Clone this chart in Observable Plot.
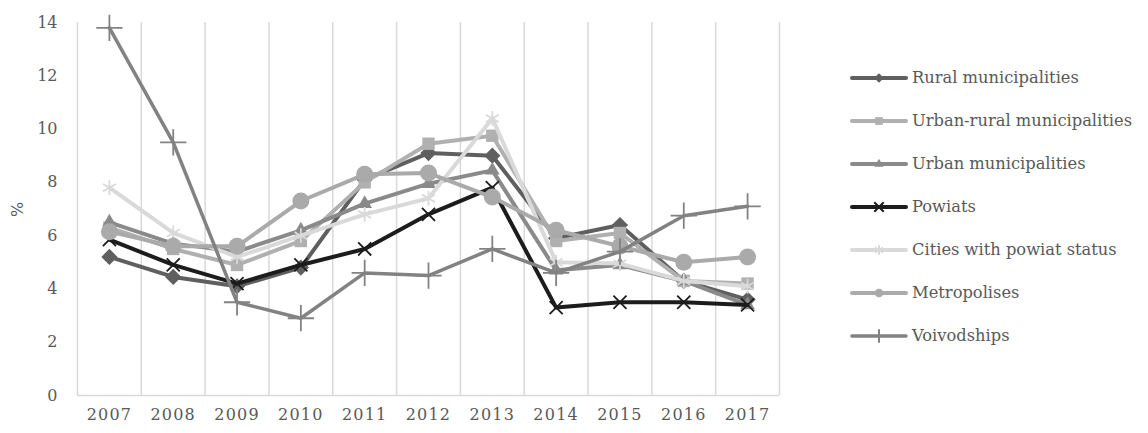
<!DOCTYPE html>
<html>
<head>
<meta charset="utf-8">
<script src="https://cdn.jsdelivr.net/npm/d3@7"></script>
<script src="https://cdn.jsdelivr.net/npm/@observablehq/plot@0.6"></script>
<style>
  html, body { margin: 0; padding: 0; background: #fff; }
  #wrap { position: relative; width: 1148px; height: 433px; font-family: "DejaVu Serif", serif; color: #595959; }
  #legend { position: absolute; left: 850px; top: 56px; }
  .row { display: flex; align-items: center; height: 43px; font-size: 16.3px; white-space: nowrap; }
  .row svg { margin-right: 4px; }
  #ylab { position: absolute; left: 10px; top: 200px; transform: rotate(-90deg); font-size: 16px; font-family: "DejaVu Sans", sans-serif; color: #595959; }
  g[aria-label="x-axis tick label"] text { letter-spacing: 1.2px; }
</style>
</head>
<body>
<div id="wrap"><div id="legend"></div><div id="ylab">%</div></div>
<script>
const years = [2007, 2008, 2009, 2010, 2011, 2012, 2013, 2014, 2015, 2016, 2017];
const yTicks = [0, 2, 4, 6, 8, 10, 12, 14];

const seriesNames = [
  "Rural municipalities",
  "Urban-rural municipalities",
  "Urban municipalities",
  "Powiats",
  "Cities with powiat status",
  "Metropolises",
  "Voivodships"
];
const rural      = [5.2, 4.45, 4.1, 4.8, 8.1, 9.1, 9.0, 5.9, 6.4, 4.3, 3.6];
const urbanRural = [6.3, 5.5, 4.9, 5.8, 8.0, 9.45, 9.75, 5.8, 6.1, 4.3, 4.2];
const urban      = [6.5, 5.7, 5.4, 6.2, 7.2, 7.95, 8.45, 4.7, 4.9, 4.3, 3.4];
const powiats    = [5.85, 4.9, 4.2, 4.9, 5.5, 6.8, 7.8, 3.3, 3.5, 3.5, 3.4];
const cities     = [7.8, 6.1, 5.2, 6.0, 6.8, 7.4, 10.4, 5.0, 4.95, 4.3, 4.1];
const metro      = [6.15, 5.6, 5.6, 7.3, 8.3, 8.35, 7.45, 6.2, 5.6, 5.0, 5.2];
const voiv       = [13.8, 9.5, 3.5, 2.9, 4.6, 4.5, 5.5, 4.6, 5.4, 6.75, 7.1];

const values = [rural, urbanRural, urban, powiats, cities, metro, voiv];
const colors  = ["#5f5f5f", "#b0b0b0", "#8a8a8a", "#1c1c1c", "#d9d9d9", "#aaaaaa", "#828282"];
const symbols = ["diamond2", "square", "triangle2", "times", "asterisk", "circle", "plus"];
const sizes   = [7.3, 7, 7, 6, 7, 8.5, 8.5];
const widths  = [4, 4, 4, 4, 4, 4, 3.5];
const strokedSyms = ["times", "asterisk", "plus"];

const bounds = years.map(y => y - 0.5).concat([years[years.length - 1] + 0.5]);

const marks = [
  Plot.ruleX(bounds, {stroke: "#d9d9d9", strokeWidth: 1.5}),
  Plot.ruleY([0], {stroke: "#d9d9d9", strokeWidth: 1.5}),
  Plot.axisY(yTicks, {tickSize: 0, tickPadding: 20, label: null, fontSize: 16, fontFamily: "DejaVu Serif"}),
  Plot.axisX(years, {tickSize: 0, tickPadding: 13, label: null, tickFormat: d => String(d), fontSize: 16, fontFamily: "DejaVu Serif"})
];
seriesNames.forEach((name, i) => {
  const rows = years.map((yr, j) => ({year: yr, value: values[i][j]}));
  marks.push(Plot.line(rows, {x: "year", y: "value", stroke: colors[i], strokeWidth: widths[i], strokeLinejoin: "round", strokeLinecap: "round"}));
  const stroked = strokedSyms.includes(symbols[i]);
  marks.push(Plot.dot(rows, {x: "year", y: "value", symbol: () => symbols[i], r: sizes[i],
    fill: stroked ? "none" : colors[i], stroke: stroked ? colors[i] : "none", strokeWidth: stroked ? 1.8 : 0}));
});

const chart = Plot.plot({
  width: 800, height: 433,
  marginLeft: 77, marginRight: 21, marginTop: 22, marginBottom: 38,
  x: {domain: [years[0] - 0.5, years[years.length - 1] + 0.5]},
  y: {domain: [0, 14]},
  symbol: {type: "identity"},
  style: {color: "#595959", background: "white", overflow: "visible"},
  marks
});
const wrap = document.getElementById("wrap");
wrap.insertBefore(chart, wrap.firstChild);

// legend
const symMap = {diamond2: d3.symbolDiamond2, square: d3.symbolSquare, triangle2: d3.symbolTriangle2, times: d3.symbolTimes,
  asterisk: d3.symbolAsterisk, circle: d3.symbolCircle, plus: d3.symbolPlus};
const legend = d3.select("#legend");
seriesNames.forEach((name, i) => {
  const row = legend.append("div").attr("class", "row");
  const svg = row.append("svg").attr("width", 58).attr("height", 20);
  svg.append("line").attr("x1", 2).attr("x2", 56).attr("y1", 10).attr("y2", 10)
    .attr("stroke", colors[i]).attr("stroke-width", widths[i]).attr("stroke-linecap", "round");
  const sym = d3.symbol(symMap[symbols[i]], 60)();
  const stroked = strokedSyms.includes(symbols[i]);
  svg.append("path").attr("d", sym).attr("transform", "translate(29,10)")
    .attr("fill", stroked ? "none" : colors[i]).attr("stroke", stroked ? colors[i] : "none").attr("stroke-width", 2);
  row.append("span").text(name);
});
</script>
</body>
</html>
